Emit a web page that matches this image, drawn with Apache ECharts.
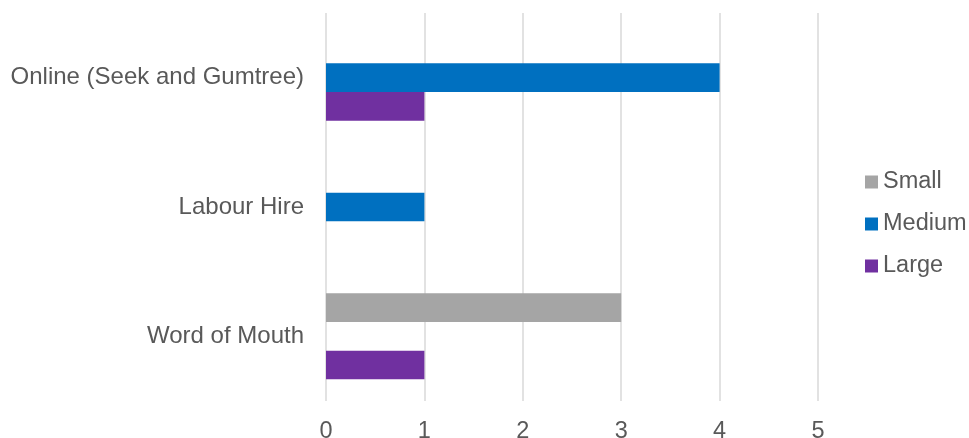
<!DOCTYPE html>
<html>
<head>
<meta charset="utf-8">
<script src="https://cdn.jsdelivr.net/npm/echarts@6/dist/echarts.min.js"></script>
<style>
  html, body { margin: 0; padding: 0; background: #ffffff; }
  #chart { width: 969px; height: 438px; }
</style>
</head>
<body>
<div id="chart"></div>
<script>
// Recruitment channels by business size (bottom to top on the axis)
const categories = ['Word of Mouth', 'Labour Hire', 'Online (Seek and Gumtree)'];
const seriesNames = ['Small', 'Medium', 'Large'];
const smallValues = [3, 0, 0];
const mediumValues = [0, 1, 4];
const largeValues = [1, 0, 1];
const xTicks = [0, 1, 2, 3, 4, 5];

const colors = ['#A5A5A5', '#0070C0', '#7030A0'];
const textColor = '#595959';
const fontFamily = '"Liberation Sans", Arial, sans-serif';

const chart = echarts.init(document.getElementById('chart'));

const valuesBySeries = [smallValues, mediumValues, largeValues];

chart.setOption({
  animation: false,
  color: colors,
  grid: { left: 326, right: 151, top: 13, bottom: 37, containLabel: false, outerBoundsMode: 'none' },
  legend: {
    orient: 'vertical',
    left: 865,
    top: 170,
    padding: 0,
    itemWidth: 13,
    itemHeight: 13,
    itemGap: 18,
    icon: 'rect',
    data: seriesNames,
    textStyle: { color: textColor, fontSize: 23.5, fontFamily: fontFamily }
  },
  xAxis: {
    type: 'value',
    min: xTicks[0],
    max: xTicks[xTicks.length - 1],
    interval: 1,
    axisLine: { show: false },
    axisTick: { show: false },
    splitLine: { show: true, lineStyle: { color: '#D9D9D9', width: 1.5 } },
    axisLabel: { color: textColor, fontSize: 23.5, fontFamily: fontFamily, margin: 19 }
  },
  yAxis: {
    type: 'category',
    data: categories,
    axisLine: { show: false },
    axisTick: { show: false },
    axisLabel: { color: textColor, fontSize: 24, fontFamily: fontFamily, margin: 22, padding: [3, 0, 0, 0] }
  },
  series: seriesNames.map((name, i) => ({
    name: name,
    type: 'bar',
    data: valuesBySeries[i],
    barGap: '0%',
    barCategoryGap: '33.5%',
    itemStyle: { color: colors[i] }
  }))
});
</script>
</body>
</html>
